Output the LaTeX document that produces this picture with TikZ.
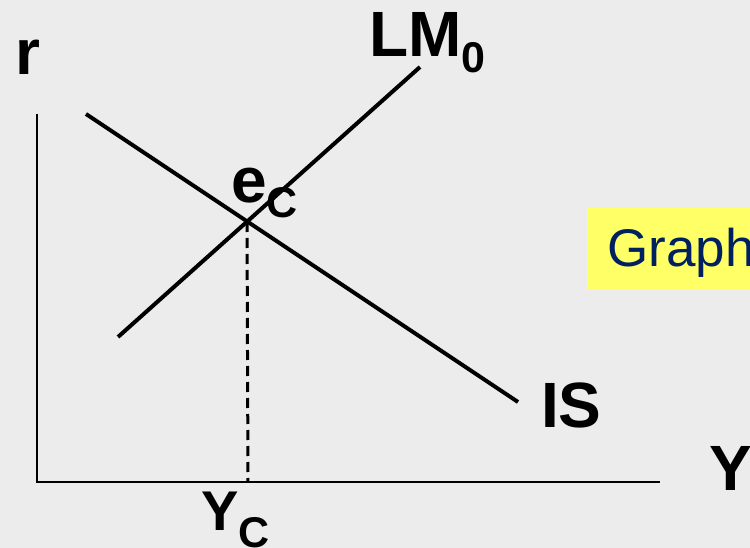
\documentclass[tikz,border=0pt]{standalone}
\usepackage{fontspec}
\setmainfont{Liberation Sans}
\usetikzlibrary{positioning}

\definecolor{paper}{RGB}{236,236,236}
\definecolor{notepad}{RGB}{255,255,102}
\definecolor{navy}{RGB}{0,32,96}
\newcommand{\lowsub}[2][16]{\raisebox{-#1pt}{\fontsize{43}{43}\selectfont #2}}

\begin{document}
\begin{tikzpicture}[x=1pt, y=-1pt,
    lbl/.style={anchor=base west, inner sep=0pt, font=\fontsize{64}{64}\selectfont\bfseries},
    curve/.style={line width=4pt},
    axis/.style={line width=2.2pt}]
    \useasboundingbox (0,0) rectangle (750,548);
    \clip (0,0) rectangle (750,548);
    \fill[paper] (0,0) rectangle (750,548);

    % axes
    \coordinate (origin) at (37,482);
    \coordinate (rtop) at (37,114);
    \coordinate (yend) at (660,482);
    \draw[axis] (rtop) -- (origin) -- (yend);
    \node[lbl] (rlab) at (15,75) {r};
    \node[lbl] (ylab) at (709,490) {Y};

    % IS and LM curves
    \coordinate (istop) at (86,114);
    \coordinate (isend) at (518,402);
    \coordinate (lmlow) at (118,337);
    \coordinate (lmtop) at (420,67);
    \draw[curve] (istop) -- (isend);
    \draw[curve] (lmlow) -- (lmtop);
    \node[lbl] (islab) at (541,427) {IS};
    \node[lbl] (lmlab) at (369,57) {LM\lowsub{0}};

    % equilibrium
    \coordinate (ec) at (247,222);
    \coordinate (yc) at (248,482);
    \draw[line width=3pt, dash pattern=on 10pt off 6pt] (ec) -- (yc);
    \node[lbl] (eclab) at (231,203) {e\lowsub[15]{C}};
    \node[lbl, font=\fontsize{56}{56}\selectfont\bfseries] (yclab) at (201,530) {Y\lowsub[17]{C}};

    % note box
    \fill[notepad] (587,208) rectangle (760,290);
    \node[anchor=base west, inner sep=0pt, text=navy, font=\fontsize{53}{53}\selectfont] (graph) at (607,266) {Graph};
\end{tikzpicture}
\end{document}
